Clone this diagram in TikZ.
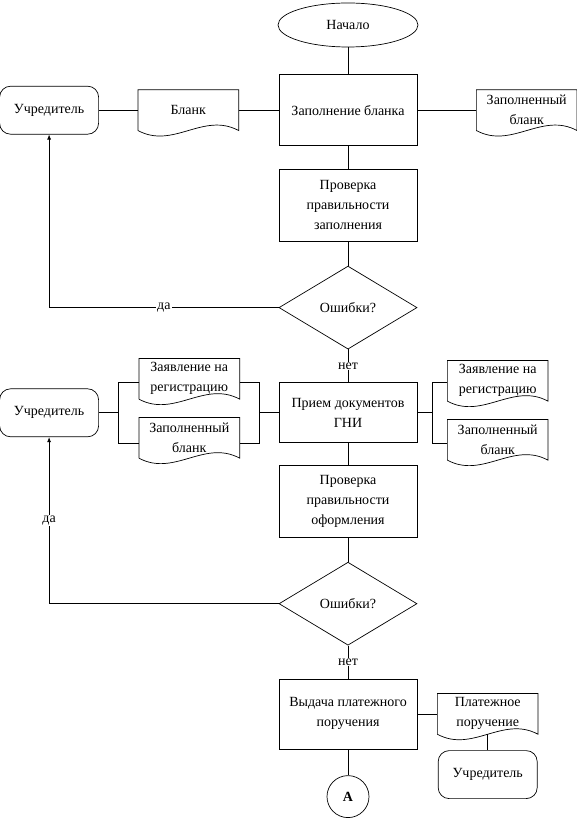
\documentclass[tikz,border=0pt]{standalone}
\usepackage{fontspec}
\setmainfont{Liberation Serif}
\usetikzlibrary{shapes.geometric, arrows.meta, positioning, calc}

\begin{document}
\begin{tikzpicture}[
    font=\fontsize{14}{20}\selectfont,
    line width=0.7pt,
    node distance=24pt and 40pt,
    proc/.style={rectangle, draw, align=center, minimum width=138pt, minimum height=71pt, inner sep=2pt},
    term/.style={ellipse, draw, minimum width=140pt, minimum height=44pt},
    actor/.style={rectangle, draw, rounded corners=11pt, minimum width=99pt, minimum height=48pt},
    doc/.style={rectangle, align=center, minimum width=100pt, minimum height=40pt, inner sep=1pt},
    decision/.style={diamond, draw, minimum width=138pt, minimum height=83pt, inner sep=0pt},
    conn/.style={circle, draw, minimum size=42pt, inner sep=0pt, font=\fontsize{14}{16}\selectfont\bfseries},
    lbl/.style={fill=white, inner sep=1pt},
    arrow/.style={-{Latex[length=5pt, width=4pt]}}
]
\useasboundingbox (0pt,0pt) rectangle (577pt,-826pt);

% Nodes
\node[term] (start) at (348pt,-25pt) {Начало};
\node[proc, below=27pt of start] (fill) {Заполнение бланка};
\node[doc, left=40pt of fill] (blank1) {Бланк};
\node[actor, left=39pt of blank1] (uch1) {Учредитель};
\node[doc, right=59pt of fill] (filled1) {Заполненный\\бланк};
\node[proc, below=23pt of fill, minimum height=72pt] (check1) {Проверка\\правильности\\заполнения};
\node[decision, below=24pt of check1] (dec1) {Ошибки?};
\node[proc, below=33pt of dec1, minimum height=60pt] (gni) {Прием документов\\ГНИ};
\node[doc, left=39pt of gni, yshift=34pt] (appl1) {Заявление на\\регистрацию};
\node[doc, left=39pt of gni, yshift=-25pt] (filled2) {Заполненный\\бланк};
\node[actor] (uch2) at (uch1 |- gni) {Учредитель};
\node[doc, right=30pt of gni, yshift=32pt] (appl2) {Заявление на\\регистрацию};
\node[doc, right=30pt of gni, yshift=-27pt] (filled3) {Заполненный\\бланк};
\node[proc, below=22pt of gni, minimum height=72pt] (check2) {Проверка\\правильности\\оформления};
\node[decision, below=24pt of check2] (dec2) {Ошибки?};
\node[proc, below=33pt of dec2, minimum height=70pt] (pay) {Выдача платежного\\поручения};
\node[doc, right=20pt of pay] (paydoc) {Платежное\\поручение};
\node[actor, below=16pt of paydoc] (uch3) {Учредитель};
\node[conn, below=26pt of pay] (end) {А};

\coordinate (lj) at ($(uch2.east)+(19pt,0)$);
\coordinate (lk) at ($(gni.west)+(-19pt,0)$);
\coordinate (rj) at ($(gni.east)+(15pt,0)$);

% Document outlines
\foreach \d in {blank1, filled1, appl1, filled2, appl2, filled3, paydoc}
  \draw (\d.south west) -- (\d.north west) -- (\d.north east) -- (\d.south east)
    .. controls ($(\d.south east)!0.35!(\d.south west)+(0,19pt)$) and ($(\d.south east)!0.65!(\d.south west)+(0,-19pt)$) .. (\d.south west);

% Connections
\draw (start) -- (fill);
\draw (uch1) -- (blank1);
\draw (blank1) -- (fill);
\draw (fill) -- (filled1);
\draw (fill) -- (check1);
\draw (check1) -- (dec1);
\draw[arrow] (dec1) -| node[lbl, pos=0.25] {да} (uch1);
\draw (dec1) -- node[lbl] {нет} (gni);
\draw (uch2) -- (lj);
\draw (appl1.west |- gni.north) -| (lj) |- (filled2.west |- gni.south);
\draw (appl1.east |- gni.north) -| (lk) |- (filled2.east |- gni.south);
\draw (lk) -- (gni);
\draw (gni) -- (rj);
\draw (appl2.west |- gni.north) -| (rj) |- (filled3.west |- gni.south);
\draw (gni) -- (check2);
\draw (check2) -- (dec2);
\draw[arrow] (dec2) -| node[lbl, pos=0.75] {да} (uch2);
\draw (dec2) -- node[lbl] {нет} (pay);
\draw (pay) -- (paydoc);
\draw (paydoc) -- (uch3);
\draw (pay) -- (end);

\end{tikzpicture}
\end{document}
